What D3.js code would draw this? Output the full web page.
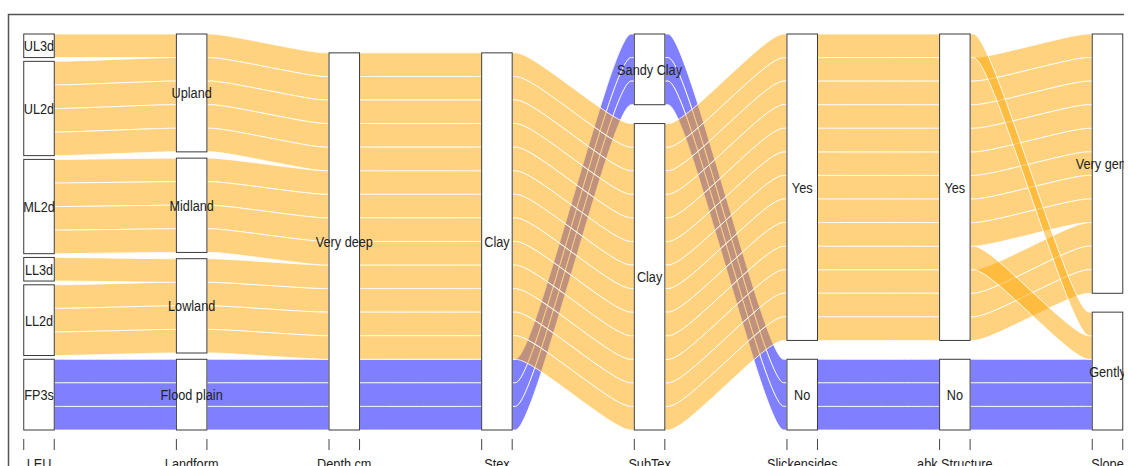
<!DOCTYPE html>
<html>
<head>
<meta charset="utf-8">
<script src="https://cdn.jsdelivr.net/npm/d3@7"></script>
<style>
	body { margin: 0; background: #ffffff; }
	text { font-family: "Liberation Sans", Arial, sans-serif; fill: #222222; }
</style>
</head>
<body>
<div id="chart_area"></div>
<script>

//////////////////////DATA//////////////////////////

// axis (variable) names, left to right
var axisNames = ["LEU", "Landform", "Depth cm", "Stex", "SubTex", "Slickensides", "abk Structure", "Slope"];

// one entry per alluvium (16 soil profiles)
var LEU          = ["UL3d","UL2d","UL2d","UL2d","UL2d","ML2d","ML2d","ML2d","ML2d","LL3d","LL2d","LL2d","LL2d","FP3s","FP3s","FP3s"];
var Landform     = ["Upland","Upland","Upland","Upland","Upland","Midland","Midland","Midland","Midland","Lowland","Lowland","Lowland","Lowland","Flood plain","Flood plain","Flood plain"];
var Depth        = ["Very deep","Very deep","Very deep","Very deep","Very deep","Very deep","Very deep","Very deep","Very deep","Very deep","Very deep","Very deep","Very deep","Very deep","Very deep","Very deep"];
var Stex         = ["Clay","Clay","Clay","Clay","Clay","Clay","Clay","Clay","Clay","Clay","Clay","Clay","Clay","Clay","Clay","Clay"];
var SubTex       = ["Clay","Clay","Clay","Clay","Clay","Clay","Clay","Clay","Clay","Clay","Clay","Clay","Clay","Sandy Clay","Sandy Clay","Sandy Clay"];
var Slickensides = ["Yes","Yes","Yes","Yes","Yes","Yes","Yes","Yes","Yes","Yes","Yes","Yes","Yes","No","No","No"];
var Structure    = ["Yes","Yes","Yes","Yes","Yes","Yes","Yes","Yes","Yes","Yes","Yes","Yes","Yes","No","No","No"];
var Slope        = ["Gently","Very gentle","Very gentle","Very gentle","Very gentle","Very gentle","Very gentle","Very gentle","Very gentle","Gently","Very gentle","Very gentle","Very gentle","Gently","Gently","Gently"];
var freq         = [1,1,1,1,1,1,1,1,1,1,1,1,1,1,1,1];

// category levels, first level drawn at the bottom
var LEU_levels          = ["FP3s","LL2d","LL3d","ML2d","UL2d","UL3d"];
var Landform_levels     = ["Flood plain","Lowland","Midland","Upland"];
var Depth_levels        = ["Very deep"];
var Stex_levels         = ["Clay"];
var SubTex_levels       = ["Clay","Sandy Clay"];
var Slickensides_levels = ["No","Yes"];
var Structure_levels    = ["No","Yes"];
var Slope_levels        = ["Gently","Very gentle"];

var columns = [LEU, Landform, Depth, Stex, SubTex, Slickensides, Structure, Slope];
var levels = [LEU_levels, Landform_levels, Depth_levels, Stex_levels, SubTex_levels, Slickensides_levels, Structure_levels, Slope_levels];

// flows of the flood plain unit are blue, the others orange
var colors = LEU.map(function(d){ return d == "FP3s" ? "blue" : "orange"; });


//////////////////////LAYOUT//////////////////////////

var n = freq.length;
var total = d3.sum(freq);
var gapWidth = 0.05;
var cw = 0.1;   // half width of the category boxes
var xw = 0.1;   // horizontal reach of the spline control points

// stripe bottoms and tops on every axis
var stripes = columns.map(function(col, i){
	var keys = [i].concat(d3.range(columns.length).filter(function(k){ return k != i; }));
	var order = d3.range(n).sort(function(a, b){
		for (var j=0; j<keys.length; j++){
			var k = keys[j];
			var diff = levels[k].indexOf(columns[k][a]) - levels[k].indexOf(columns[k][b]);
			if (diff != 0) return diff;
		}
		return a - b;
	});
	var nCats = new Set(col).size;
	var step = nCats > 1 ? gapWidth / (nCats - 1) : 0;
	var pos = new Array(n);
	var y = 0, gaps = 0, prev = null;
	order.forEach(function(r){
		if (prev !== null && col[r] != prev) gaps += step;
		pos[r] = {y1: y + gaps, y2: y + freq[r] / total + gaps};
		y += freq[r] / total;
		prev = col[r];
	});
	return pos;
});

// category boxes
var blocks = [];
columns.forEach(function(col, i){
	levels[i].forEach(function(lev){
		var rows = d3.range(n).filter(function(r){ return col[r] == lev; });
		if (rows.length == 0) return;
		blocks.push({
			axis: i,
			label: lev,
			y1: d3.min(rows, function(r){ return stripes[i][r].y1; }),
			y2: d3.max(rows, function(r){ return stripes[i][r].y2; })
		});
	});
});


//////////////////////DRAW//////////////////////////

var frame_width = 1128;
var frame_height = 466;
var narrow = 0.82;   // horizontal squeeze to mimic a narrow sans face

var svg = d3.select("#chart_area").append("svg")
			.attr("width", frame_width)
			.attr("height", frame_height);

svg.append("defs").append("clipPath")
	.attr("id", "cut")
	.append("rect")
	.attr("x", 0).attr("y", 0)
	.attr("width", 1124).attr("height", frame_height);

var canvas = svg.append("g").attr("clip-path", "url(#cut)");

var xScale = d3.scaleLinear().domain([1, 8]).range([39, 1107.5]);
var yScale = d3.scaleLinear().domain([0, 1 + gapWidth]).range([430, 34]);

var spline = d3.line()
				.x(function(d){ return xScale(d[0]); })
				.y(function(d){ return yScale(d[1]); })
				.curve(d3.curveBasis);

function flowPath(r, j){
	var a = stripes[j][r], b = stripes[j+1][r];
	var x0 = j + 1 + cw, x1 = j + 2 - cw;
	var top = spline([[x0, a.y2], [x0 + xw, a.y2], [x1 - xw, b.y2], [x1, b.y2]]);
	var bot = spline([[x1, b.y1], [x1 - xw, b.y1], [x0 + xw, a.y1], [x0, a.y1]]);
	return top + "L" + bot.slice(1) + "Z";
}

// draw the alluvia, last rows first so the blue ones sit underneath
var flows = canvas.append("g").attr("class", "flows");
d3.range(n).reverse().forEach(function(r){
	for (var j=0; j<columns.length-1; j++){
		flows.append("path")
			.attr("d", flowPath(r, j))
			.attr("fill", colors[r])
			.attr("fill-opacity", 0.5)
			.attr("stroke", "#ffffff")
			.attr("stroke-opacity", 0.85)
			.attr("stroke-width", 1);
	}
});

// category boxes and labels
var boxes = canvas.append("g").attr("class", "blocks");
boxes.selectAll("rect")
	.data(blocks)
	.enter()
	.append("rect")
	.attr("x", function(d){ return xScale(d.axis + 1 - cw); })
	.attr("y", function(d){ return yScale(d.y2); })
	.attr("width", function(d){ return xScale(d.axis + 1 + cw) - xScale(d.axis + 1 - cw); })
	.attr("height", function(d){ return yScale(d.y1) - yScale(d.y2); })
	.attr("fill", "#ffffff")
	.attr("stroke", "#3a3a3a")
	.attr("stroke-width", 1);

boxes.selectAll("text")
	.data(blocks)
	.enter()
	.append("text")
	.attr("transform", function(d){
		return "translate(" + xScale(d.axis + 1) + "," + yScale((d.y1 + d.y2) / 2) + ") scale(" + narrow + ",1)";
	})
	.attr("dy", "0.35em")
	.attr("text-anchor", "middle")
	.style("font-size", "15.5px")
	.text(function(d){ return d.label; });

// axis ticks at the box edges and the variable names
var axis = canvas.append("g").attr("class", "axis");
axisNames.forEach(function(name, i){
	[i + 1 - cw, i + 1 + cw].forEach(function(t){
		axis.append("line")
			.attr("x1", xScale(t)).attr("x2", xScale(t))
			.attr("y1", 439).attr("y2", 450)
			.attr("stroke", "#444444")
			.attr("stroke-width", 1);
	});
	axis.append("text")
		.attr("transform", "translate(" + xScale(i + 1) + ",469) scale(" + narrow + ",1)")
		.attr("text-anchor", "middle")
		.style("font-size", "15.5px")
		.text(name);
});

// plot frame (left and top edges are the visible part)
canvas.append("path")
	.attr("d", "M8.5," + frame_height + "V14.5H" + frame_width)
	.attr("fill", "none")
	.attr("stroke", "#555555")
	.attr("stroke-width", 1.5);

</script>
</body>
</html>
